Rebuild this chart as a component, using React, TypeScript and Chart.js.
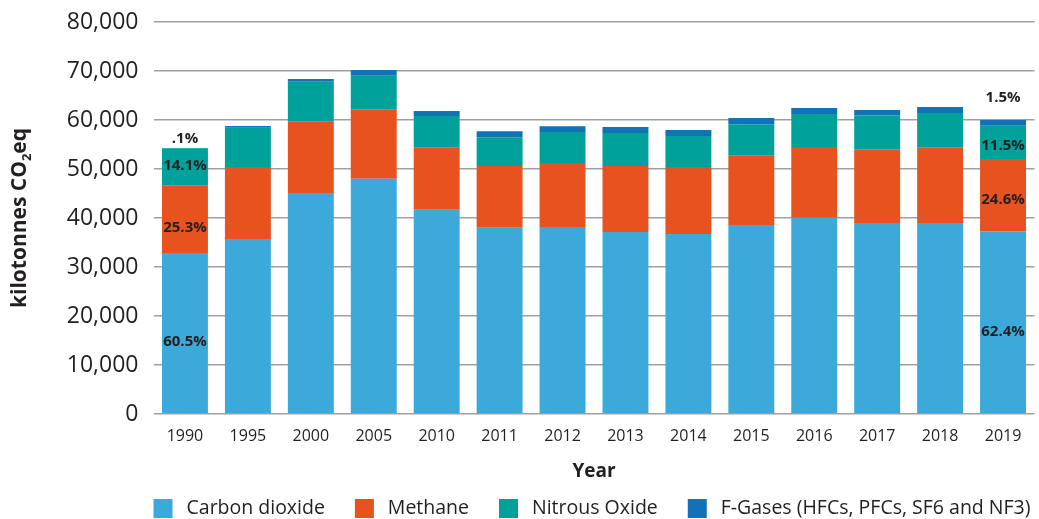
import React, { useEffect, useRef } from 'react';
import { Chart, registerables } from 'chart.js';

Chart.register(...registerables);

// ---- Data (kilotonnes CO2 eq) ----
const years = ['1990', '1995', '2000', '2005', '2010', '2011', '2012', '2013', '2014', '2015', '2016', '2017', '2018', '2019'];
const carbonDioxide = [32850, 35700, 45100, 48000, 41700, 38000, 38150, 37150, 36750, 38550, 40050, 39000, 39000, 37300];
const methane = [13740, 14700, 14550, 14100, 12650, 12600, 13050, 13450, 13650, 14150, 14450, 14950, 15350, 14750];
const nitrousOxide = [7660, 8000, 8150, 6950, 6470, 5900, 6350, 6750, 6350, 6450, 6750, 6950, 7100, 6800];
const fGases = [54, 400, 550, 1150, 1020, 1200, 1200, 1200, 1200, 1250, 1200, 1150, 1200, 1150];

const seriesNames = ['Carbon dioxide', 'Methane', 'Nitrous Oxide', 'F-Gases (HFCs, PFCs, SF6 and NF3)'];
const yTickValues = [0, 10000, 20000, 30000, 40000, 50000, 60000, 70000, 80000];

// share labels shown on first and last bars (order: CO2, CH4, N2O, F-gases)
const labelledYears = ['1990', '2019'];
const shares1990 = ['60.5%', '25.3%', '14.1%', '.1%'];
const shares2019 = ['62.4%', '24.6%', '11.5%', '1.5%'];

const xTitle = 'Year';
const yTitleMain = 'kilotonnes CO';
const yTitleSub = '2';
const yTitleEnd = 'eq';

// ---- Styles ----
const colors = ['#3BAADB', '#E8521F', '#00A19A', '#1172B8'];
const textColor = '#231F20';
const gridColor = '#A0A0A0';
const FONT = "'Open Sans', 'Noto Sans', sans-serif";
const labelOffsets = [
  [8.5, 8.5, -1, -9],
  [9, 4.5, 3.5, -22],
];

const shareLabelPlugin = {
  id: 'shareLabels',
  afterDatasetsDraw(chart: any) {
    const ctx = chart.ctx;
    ctx.save();
    ctx.font = `bold 15px ${FONT}`;
    ctx.fillStyle = textColor;
    ctx.textAlign = 'center';
    ctx.textBaseline = 'middle';
    const shareSets = [shares1990, shares2019];
    labelledYears.forEach((yr, k) => {
      const idx = years.indexOf(yr);
      shareSets[k].forEach((txt, d) => {
        const el = chart.getDatasetMeta(d).data[idx];
        if (!el) return;
        const off = labelOffsets[k][d];
        const y = d < 3 ? (el.y + el.base) / 2 + off : el.y + off;
        ctx.fillText(txt, el.x, y);
      });
    });
    ctx.restore();
  },
};

const yTitlePlugin = {
  id: 'yTitleCustom',
  afterDraw(chart: any) {
    const ctx = chart.ctx;
    const { top, bottom } = chart.chartArea;
    ctx.save();
    ctx.translate(20, (top + bottom) / 2);
    ctx.rotate(-Math.PI / 2);
    ctx.fillStyle = textColor;
    ctx.textBaseline = 'middle';
    ctx.textAlign = 'left';
    const big = `bold 21px ${FONT}`;
    const small = `bold 13px ${FONT}`;
    ctx.font = big;
    const w1 = ctx.measureText(yTitleMain).width;
    const w3 = ctx.measureText(yTitleEnd).width;
    ctx.font = small;
    const w2 = ctx.measureText(yTitleSub).width;
    let x = -(w1 + w2 + w3) / 2;
    ctx.font = big;
    ctx.fillText(yTitleMain, x, 0);
    x += w1;
    ctx.font = small;
    ctx.fillText(yTitleSub, x, 7);
    x += w2;
    ctx.font = big;
    ctx.fillText(yTitleEnd, x, 0);
    ctx.restore();
  },
};

const legendPlugin = {
  id: 'customLegend',
  afterDraw(chart: any) {
    const ctx = chart.ctx;
    const { left, right } = chart.chartArea;
    const box = 19;
    const gapText = 14;
    const gapItem = 30;
    const cy = 508.5;
    ctx.save();
    ctx.font = `19.5px ${FONT}`;
    const widths = seriesNames.map((n) => ctx.measureText(n).width);
    const total = widths.reduce((a, w) => a + box + gapText + w, 0) + gapItem * (seriesNames.length - 1);
    let x = (left + right) / 2 - total / 2 - 2;
    ctx.textBaseline = 'middle';
    ctx.textAlign = 'left';
    seriesNames.forEach((n, i) => {
      ctx.fillStyle = colors[i];
      ctx.fillRect(x, cy - box / 2, box, box);
      x += box + gapText;
      ctx.fillStyle = textColor;
      ctx.fillText(n, x, cy);
      x += widths[i] + gapItem;
    });
    ctx.restore();
  },
};

export default function App() {
  const canvasRef = useRef<HTMLCanvasElement | null>(null);

  useEffect(() => {
    if (!canvasRef.current) return;
    Chart.defaults.font.family = FONT;
    Chart.defaults.color = textColor;
    const seriesValues = [carbonDioxide, methane, nitrousOxide, fGases];
    const chart = new Chart(canvasRef.current, {
      type: 'bar',
      data: {
        labels: years,
        datasets: seriesNames.map((name, i) => ({
          label: name,
          data: seriesValues[i],
          backgroundColor: colors[i],
          borderWidth: 0,
          barPercentage: 0.73,
          categoryPercentage: 1,
        })),
      },
      options: {
        animation: false,
        responsive: true,
        maintainAspectRatio: false,
        layout: { padding: { top: 22, right: 4.5, left: 0, bottom: 0 } },
        plugins: {
          legend: { display: false },
          tooltip: { enabled: false },
        },
        scales: {
          x: {
            stacked: true,
            grid: { display: false, drawTicks: false },
            border: { display: false },
            ticks: { font: { size: 16 }, color: textColor, padding: 13, maxRotation: 0 },
            title: {
              display: true,
              text: xTitle,
              font: { size: 19, weight: 'bold' },
              color: textColor,
              padding: { top: 0, bottom: 36 },
            },
            afterFit: (scale: any) => {
              scale.height = 105;
              scale.paddingLeft = 0;
              scale.paddingRight = 0;
            },
          },
          y: {
            stacked: true,
            min: 0,
            max: 80000,
            afterBuildTicks: (scale: any) => {
              scale.ticks = yTickValues.map((v) => ({ value: v }));
            },
            grid: { color: gridColor, lineWidth: 1.5, drawTicks: false },
            border: { display: false },
            ticks: {
              font: { size: 23 },
              color: textColor,
              padding: 15,
              callback: (v: any) => Number(v).toLocaleString('en-US'),
            },
            afterFit: (scale: any) => {
              scale.width = 153.5;
              scale.paddingTop = 0;
              scale.paddingBottom = 0;
            },
          },
        },
      },
      plugins: [shareLabelPlugin, yTitlePlugin, legendPlugin],
    });
    return () => chart.destroy();
  }, []);

  return (
    <div style={{ position: 'absolute', left: 0, top: 0, width: 1039, height: 519 }}>
      <canvas ref={canvasRef} />
    </div>
  );
}
